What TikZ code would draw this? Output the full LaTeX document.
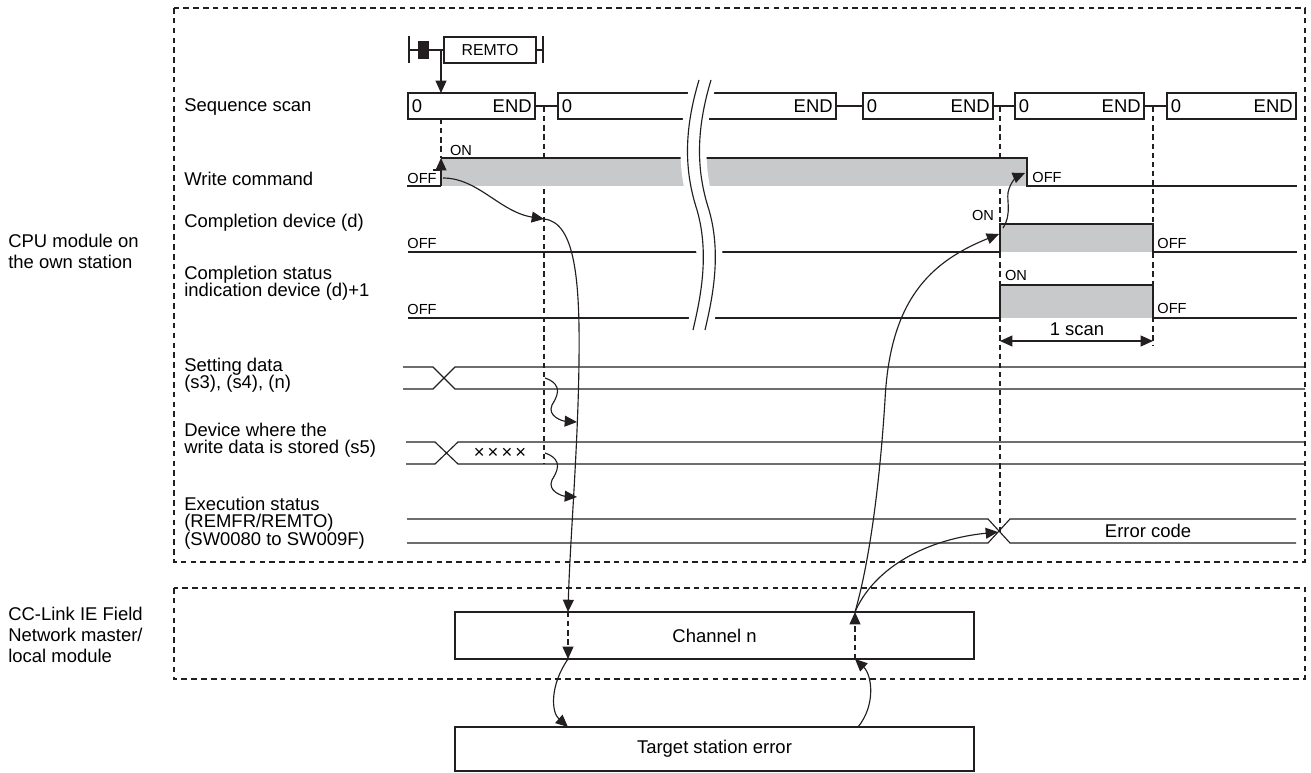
\documentclass[tikz,border=0pt]{standalone}
\usepackage{fontspec}
\setmainfont{Liberation Sans}
\usetikzlibrary{arrows.meta}

\definecolor{pulsegray}{RGB}{200,201,203}
\definecolor{ink}{RGB}{35,31,32}

\tikzset{
  wire/.style={ink, line width=0.65pt},
  guide/.style={ink, line width=0.65pt, dash pattern=on 3pt off 2.2pt},
  frame/.style={ink, line width=0.65pt, dash pattern=on 3.2pt off 2.4pt},
  tip/.style={-{Triangle[length=7pt,width=6.2pt]}},
  arr/.style={wire, tip},
  rowlbl/.style={anchor=west, align=left, inner sep=0pt, font=\fontsize{10.5}{9.9}\selectfont},
  sidelbl/.style={anchor=west, align=left, inner sep=0pt, font=\fontsize{10.5}{11.9}\selectfont},
  lvl/.style={inner sep=0pt, font=\fontsize{8.3}{9}\selectfont},
  txt/.style={inner sep=0pt, font=\fontsize{10.5}{12}\selectfont},
  scanbox/.style={draw=ink, line width=0.65pt, minimum height=0.52cm, inner sep=0pt, outer sep=0pt, anchor=west},
  chbox/.style={draw=ink, line width=0.65pt, minimum width=10.38cm, inner sep=0pt, outer sep=0pt, font=\fontsize{10.5}{12}\selectfont},
}

% data bus: top y, bottom y, start x, cross start, cross end, end x
\newcommand\busrow[6]{%
  \draw[wire] (#3,#1) -- (#4,#1) -- (#5,#2) -- (#6,#2);
  \draw[wire] (#3,#2) -- (#4,#2) -- (#5,#1) -- (#6,#1);
}

\begin{document}
\begin{tikzpicture}[x=0.02cm, y=-0.02cm]
  \useasboundingbox (0,0) rectangle (1311,773);

  % frames
  \draw[frame] (174,8) rectangle (1305,562);
  \draw[frame] (174,588) rectangle (1305,679);

  % side labels
  \node[sidelbl] (cpu) at (8,251) {CPU module on\\the own station};
  \node[sidelbl] (cclink) at (8,635) {CC-Link IE Field\\Network master/\\local module};

  % row labels
  \node[rowlbl] (lscan) at (184,107) {Sequence scan};
  \node[rowlbl] (lwrite) at (184,179) {Write command};
  \node[rowlbl] (ldone) at (184,223) {Completion device (d)};
  \node[rowlbl] (lstat) at (184,283) {Completion status\\indication device (d)+1};
  \node[rowlbl] (lset) at (184,375) {Setting data\\(s3), (s4), (n)};
  \node[rowlbl] (ldev) at (184,440) {Device where the\\write data is stored (s5)};
  \node[rowlbl] (lexec) at (184,523) {Execution status\\(REMFR/REMTO)\\(SW0080 to SW009F)};

  % REMTO contact
  \draw[wire] (409,36) -- (409,63);
  \fill[ink] (418,41) rectangle (429,59);
  \node[draw=ink, line width=0.65pt, minimum width=1.84cm, minimum height=0.52cm, inner sep=0pt,
        font=\fontsize{9}{10}\selectfont] (remto) at (490,50) {REMTO};
  \draw[wire] (409,50) -- (remto.west);
  \draw[wire] (remto.east) -- (543,50);
  \draw[wire] (543,36) -- (543,63);
  \draw[arr] (441,50) -- (441,93);

  % sequence scans
  \foreach \l/\r [count=\i] in {408/535,558/836,863/993,1015/1144,1167/1296} {
    \node[scanbox, minimum width={(\r-\l)*0.02cm}] (scan\i) at (\l,106) {};
    \node[txt, anchor=west] at ([xshift=0.07cm]scan\i.west) {0};
    \node[txt, anchor=east] at ([xshift=-0.06cm]scan\i.east) {END};
  }
  \foreach \i [evaluate=\i as \j using int(\i+1)] in {1,...,4}
    \draw[wire] (scan\i.east) -- (scan\j.west);

  % guides
  \draw[guide] (441,119) -- (441,158);
  \draw[guide] (544,107) -- (544,464);
  \draw[guide] (1000,107) -- (1000,532);
  \draw[guide] (1153,107) -- (1153,345);

  % write command
  \fill[pulsegray] (441,158) rectangle (1027,186);
  \draw[wire] (407,186) -- (441,186);
  \draw[arr] (441,186) -- (441,158);
  \draw[wire] (441,158) -- (1027,158) -- (1027,186) -- (1297,186);
  \draw[wire] (433,170) -- (441,170);

  % completion device
  \fill[pulsegray] (1000,224) rectangle (1153,252);
  \draw[wire] (408,252) -- (1000,252) -- (1000,224) -- (1153,224) -- (1153,252) -- (1297,252);

  % completion status
  \fill[pulsegray] (1000,285) rectangle (1153,318);
  \draw[wire] (408,318) -- (1000,318) -- (1000,285) -- (1153,285) -- (1153,318) -- (1297,318);

  % break marks
  \fill[white] (692,78) .. controls (677,130) and (677,170) .. (690,210)
    .. controls (703,255) and (693,300) .. (686,332) -- (712,332)
    .. controls (719,300) and (729,255) .. (716,210)
    .. controls (703,170) and (703,130) .. (718,78) -- cycle;
  \foreach \s in {0,12}
    \draw[wire, xshift=\s*0.02cm] (699,80) .. controls (684,130) and (684,170) .. (697,210)
      .. controls (710,255) and (700,300) .. (693,330);

  % level labels
  \node[lvl] at (461,150) {ON};
  \node[lvl] at (422,178) {OFF};
  \node[lvl] at (1047,177) {OFF};
  \node[lvl] at (422,243) {OFF};
  \node[lvl] at (983,215) {ON};
  \node[lvl] at (1172,243) {OFF};
  \node[lvl] at (422,309) {OFF};
  \node[lvl] at (1016,275) {ON};
  \node[lvl] at (1172,308) {OFF};

  % 1 scan
  \draw[wire, {Triangle[length=7pt,width=6.2pt]}-{Triangle[length=7pt,width=6.2pt]}] (1000,341) -- (1153,341);
  \node[txt] (onescan) at (1077,329) {1 scan};

  % data rows
  \busrow{367}{389}{403}{433}{455}{1305}
  \busrow{442}{464}{406}{435}{458}{1305}
  \busrow{519}{543}{407}{988}{1010}{1296}
  \node[txt] (xxxx) at (500,453) {×\,×\,×\,×};
  \node[txt] (errcode) at (1148,531) {Error code};

  % master/local module and target
  \node[chbox, minimum height=0.94cm] (chan) at (714.5,635.5) {Channel n};
  \node[chbox, minimum height=0.88cm] (target) at (714.5,749) {Target station error};
  \coordinate (chin) at (568,612);
  \coordinate (chout) at (568,659);
  \coordinate (tgin) at (568,727);
  \coordinate (tgout) at (858,727);
  \coordinate (rtin) at (855,659);
  \coordinate (rtout) at (855,612);

  % handshake arrows
  \draw[arr] (443,178) .. controls (478,178) and (500,212) .. (544,219);
  \draw[arr] (544,219) .. controls (575,222) and (580,280) .. (579,360)
    .. controls (578,450) and (570,540) .. (chin);
  \draw[arr] (545,378) .. controls (565,385) and (556,398) .. (552,405)
    .. controls (547,416) and (562,421) .. (577,422);
  \draw[arr] (545,453) .. controls (565,460) and (556,473) .. (552,480)
    .. controls (547,491) and (562,496) .. (577,497);
  \draw[arr, guide] (chin) -- (chout);
  \draw[arr] (chout) .. controls (550,685) and (551,712) .. (tgin);
  \draw[arr] (tgout) .. controls (876,705) and (872,675) .. (rtin);
  \draw[arr, guide] (rtin) -- (rtout);
  \draw[arr] (rtout) .. controls (870,560) and (880,480) .. (885,400)
    .. controls (890,300) and (930,262) .. (999,234);
  \draw[arr] (rtout) .. controls (872,572) and (920,540) .. (998,532);
  \draw[arr] (1003,228) .. controls (1013,212) and (1005,198) .. (1009,189)
    .. controls (1012,180) and (1018,176) .. (1025,173);
\end{tikzpicture}
\end{document}
